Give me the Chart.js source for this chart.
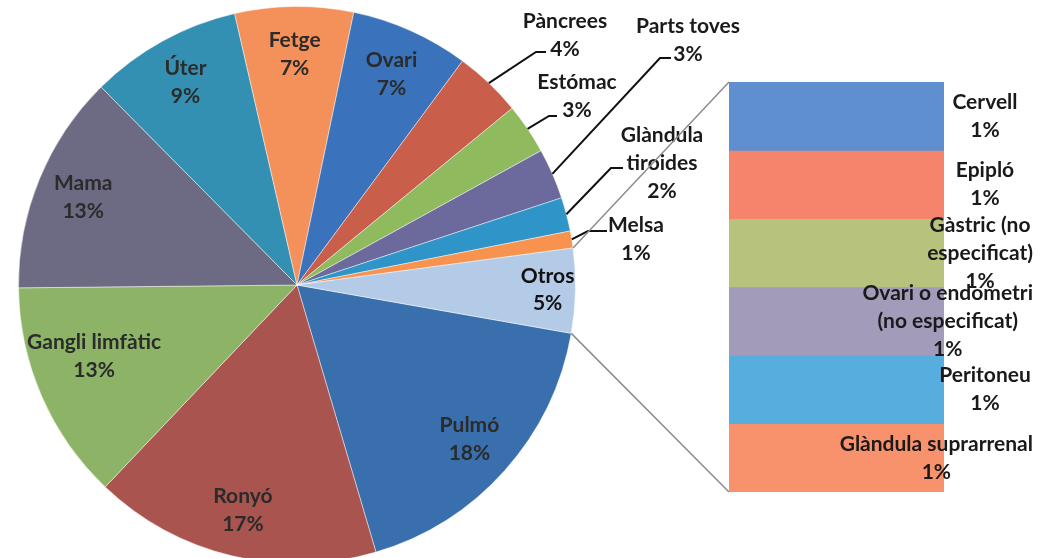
<!DOCTYPE html>
<html>
<head>
<meta charset="utf-8">
<script src="https://cdn.jsdelivr.net/npm/chart.js@4.4.1/dist/chart.umd.min.js"></script>
<style>
  html, body { margin: 0; padding: 0; background: #fff; overflow: hidden; width: 1040px; height: 558px; }
  #pieWrap { position: absolute; left: 0; top: 0; width: 1040px; height: 570px; }
  #barWrap { position: absolute; left: 700px; top: 60px; width: 340px; height: 450px; }
</style>
</head>
<body>
<div id="pieWrap"><canvas id="PieChart"></canvas></div>
<div id="barWrap"><canvas id="BarChart"></canvas></div>
<script>
// pie slices, clockwise starting at Pulmó
var pieLabels = [["Pulmó"], ["Ronyó"], ["Gangli limfàtic"], ["Mama"], ["Úter"], ["Fetge"], ["Ovari"],
                 ["Pàncrees"], ["Estómac"], ["Parts toves"], ["Glàndula", "tiroides"], ["Melsa"], ["Otros"]];
var pieValues = [18, 17, 13, 13, 9, 7, 7, 4, 3, 3, 2, 1, 5];
var pieColors = ["#3a6fae", "#a9544e", "#8db366", "#6d6a84", "#3490b2", "#f4915a", "#3a72bb",
                 "#c95e4a", "#8fbb5e", "#6c6a9c", "#2f95c9", "#f7924f", "#b4cbe8"];

// breakdown of "Otros", top to bottom
var otherLabels = [["Cervell"], ["Epipló"], ["Gàstric (no", "especificat)"], ["Ovari o endometri", "(no especificat)"],
                   ["Peritoneu"], ["Glàndula suprarrenal"]];
var otherValues = [1, 1, 1, 1, 1, 1];
var otherColors = ["#5f8fcf", "#f4846c", "#b7c37c", "#a29bb9", "#58addf", "#f8926c"];

var FONT = "bold 21px Lato";
var LINE = 28;

// labels placed outside the pie with a leader line (text block center + end of leader)
var outsideLabels = {
  7:  { x: 565, y: 35,  lx: 546, ly: 52,  ex: 536, ey: 52 },
  8:  { x: 577, y: 96,  lx: 557, ly: 116, ex: 549, ey: 116 },
  9:  { x: 688, y: 40,  lx: 671, ly: 58,  ex: 660, ey: 58 },
  10: { x: 662, y: 163, lx: 623, ly: 168, ex: 611, ey: 168 },
  11: { x: 636, y: 239, lx: 607, ly: 231, ex: 588, ey: 231 }
};
var insideNudge = { 2: { dx: 9, dy: -21 } };

function drawLines(ctx, lines, cx, cy, lh) {
  var top = cy - (lines.length - 1) * lh / 2;
  lines.forEach(function(t, k) {
    ctx.fillText(t, cx, top + k * lh);
  });
}

var barChart = new Chart(document.getElementById("BarChart").getContext("2d"), {
  type: "bar",
  data: {
    labels: [""],
    datasets: otherLabels.map(function(l, i) {
      return {
        label: l.join(" "),
        data: [otherValues[i]],
        backgroundColor: otherColors[i],
        borderWidth: 0,
        barPercentage: 1,
        categoryPercentage: 1
      };
    })
  },
  options: {
    responsive: true,
    maintainAspectRatio: false,
    animation: false,
    layout: { padding: { left: 29, right: 96, top: 22, bottom: 18 } },
    plugins: { legend: { display: false }, tooltip: { enabled: false } },
    scales: {
      x: { stacked: true, display: false },
      y: { stacked: true, display: false, reverse: true, min: 0,
           max: otherValues.reduce(function(a, b) { return a + b; }, 0) }
    }
  },
  plugins: [{
    id: "barLabels",
    afterDatasetsDraw: function(chart) {
      var ctx = chart.ctx;
      ctx.save();
      ctx.font = FONT;
      ctx.fillStyle = "#1a1a1a";
      ctx.textAlign = "center";
      ctx.textBaseline = "middle";
      chart.data.datasets.forEach(function(ds, i) {
        var bar = chart.getDatasetMeta(i).data[0];
        var lines = otherLabels[i].concat([otherValues[i] + "%"]);
        var maxW = 0;
        lines.forEach(function(t) { maxW = Math.max(maxW, ctx.measureText(t).width); });
        var cx = Math.min(bar.x + bar.width / 2 + 41, chart.width - 7 - maxW / 2);
        drawLines(ctx, lines, cx, (bar.y + bar.base) / 2, LINE);
      });
      ctx.restore();
    }
  }]
});

var pieChart = new Chart(document.getElementById("PieChart").getContext("2d"), {
  type: "pie",
  data: {
    labels: pieLabels.map(function(l) { return l.join(" "); }),
    datasets: [{
      data: pieValues,
      backgroundColor: pieColors,
      borderColor: "rgba(255,255,255,0.45)",
      borderWidth: 1
    }]
  },
  options: {
    responsive: true,
    maintainAspectRatio: false,
    animation: false,
    rotation: 100,
    layout: { padding: { left: 18, right: 464, top: 6, bottom: 6 } },
    plugins: { legend: { display: false }, tooltip: { enabled: false } }
  },
  plugins: [{
    id: "pieLabels",
    afterDatasetsDraw: function(chart) {
      var ctx = chart.ctx;
      var arcs = chart.getDatasetMeta(0).data;
      ctx.save();
      ctx.font = FONT;
      ctx.textAlign = "center";
      ctx.textBaseline = "middle";
      arcs.forEach(function(arc, i) {
        var mid = (arc.startAngle + arc.endAngle) / 2;
        var lines = pieLabels[i].concat([pieValues[i] + "%"]);
        var o = outsideLabels[i];
        if (o) {
          var sx = arc.x + Math.cos(mid) * arc.outerRadius;
          var sy = arc.y + Math.sin(mid) * arc.outerRadius;
          ctx.strokeStyle = "#111";
          ctx.lineWidth = 2;
          ctx.beginPath();
          ctx.moveTo(sx, sy);
          ctx.lineTo(o.ex, o.ey);
          ctx.lineTo(o.lx, o.ly);
          ctx.stroke();
          ctx.fillStyle = "#1a1a1a";
          drawLines(ctx, lines, o.x, o.y, LINE);
        } else {
          var f = i === pieValues.length - 1 ? 0.9 : 0.83;
          var n = insideNudge[i] || { dx: 0, dy: 0 };
          var cx = arc.x + Math.cos(mid) * arc.outerRadius * f + n.dx;
          var cy = arc.y + Math.sin(mid) * arc.outerRadius * f + n.dy;
          ctx.fillStyle = i === pieValues.length - 1 ? "#111" : "#2b2b2b";
          drawLines(ctx, lines, cx, cy, i === pieValues.length - 1 ? 27 : LINE);
        }
      });

      // connector lines from the "Otros" slice to the breakdown bar
      var otros = arcs[arcs.length - 1];
      var pr = chart.canvas.getBoundingClientRect();
      var br = barChart.canvas.getBoundingClientRect();
      var area = barChart.chartArea;
      var bx = br.left - pr.left + area.left;
      ctx.strokeStyle = "#8c8c8c";
      ctx.lineWidth = 1.5;
      ctx.beginPath();
      ctx.moveTo(otros.x + Math.cos(otros.startAngle) * otros.outerRadius,
                 otros.y + Math.sin(otros.startAngle) * otros.outerRadius);
      ctx.lineTo(bx, br.top - pr.top + area.top);
      ctx.moveTo(otros.x + Math.cos(otros.endAngle) * otros.outerRadius,
                 otros.y + Math.sin(otros.endAngle) * otros.outerRadius);
      ctx.lineTo(bx, br.top - pr.top + area.bottom);
      ctx.stroke();
      ctx.restore();
    }
  }]
});
</script>
</body>
</html>
